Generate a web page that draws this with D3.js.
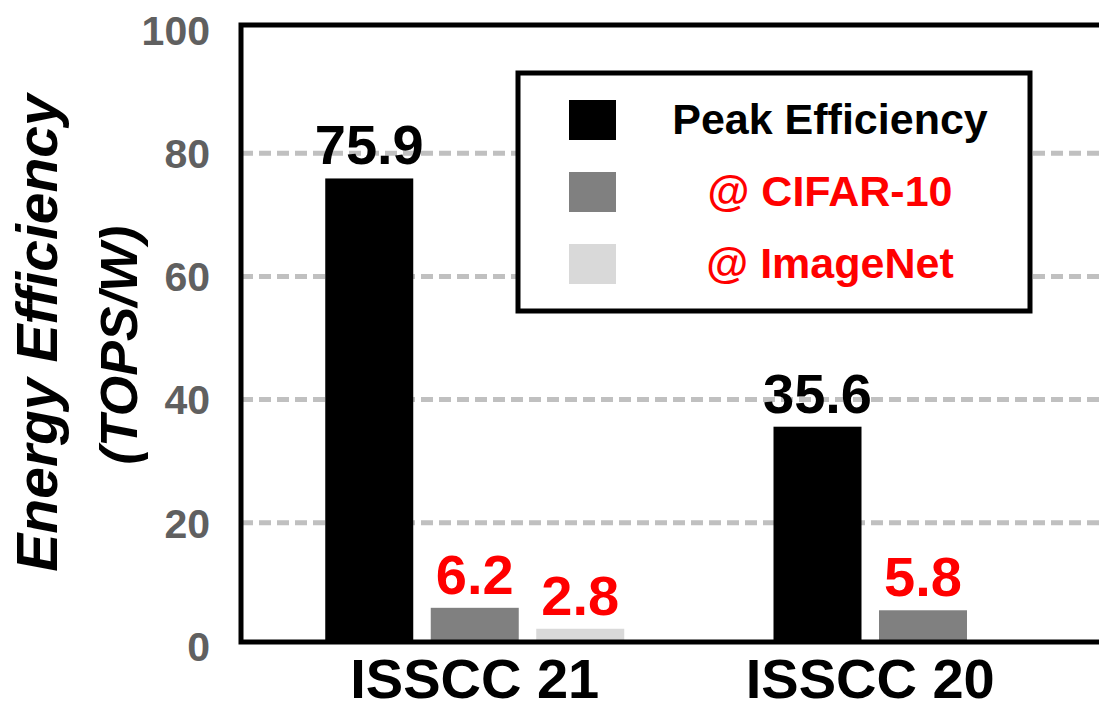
<!DOCTYPE html>
<meta charset="utf-8">
<style>
body { margin: 0; background: #fff; }
text { font-family: "Liberation Sans", Arial, sans-serif; font-weight: bold; }
.tick-label { font-size: 41px; fill: #606060; }
.cat-label { font-size: 56px; fill: #000; }
.val-label { font-size: 56px; }
.legend-label { font-size: 43px; }
</style>
<body>
<script src="https://d3js.org/d3.v7.min.js"></script>
<script>
// data
const categories = ["ISSCC 21", "ISSCC 20"];
const series = ["Peak Efficiency", "@ CIFAR-10", "@ ImageNet"];
const peakVals = [75.9, 35.6];
const cifarVals = [6.2, 5.8];
const imagenetVals = [2.8, null];
const yTicks = [0, 20, 40, 60, 80, 100];

const fills = ["#000000", "#808080", "#d9d9d9"];
const labelColors = ["#000000", "#ff0000", "#ff0000"];

const width = 1099, height = 709;
const plot = {left: 241, top: 25, right: 1104, bottom: 642};

const svg = d3.select("body").append("svg")
    .attr("width", width)
    .attr("height", height);

// scales
const x = d3.scaleBand()
    .domain(categories)
    .range([277, 1068]);

const y = d3.scaleLinear()
    .domain([0, 100])
    .range([646, 30]);

// gridlines (dashed grey)
svg.append("g")
  .selectAll("line")
  .data(yTicks.filter(t => t > 0 && t < 100))
  .enter().append("line")
    .attr("x1", plot.left)
    .attr("x2", width)
    .attr("y1", d => y(d))
    .attr("y2", d => y(d))
    .attr("stroke", "#c0c0c0")
    .attr("stroke-width", 5)
    .attr("stroke-dasharray", "12,6");

// tick labels
svg.append("g")
  .selectAll("text")
  .data(yTicks)
  .enter().append("text")
    .attr("class", "tick-label")
    .attr("x", 210)
    .attr("y", d => y(d))
    .attr("dy", "0.36em")
    .attr("text-anchor", "end")
    .text(d => d);

// build rows for bars
const rows = categories.map((c, i) => {
  const vals = [peakVals[i], cifarVals[i], imagenetVals[i]];
  const items = [];
  vals.forEach((v, s) => { if (v != null) items.push({cat: c, s: s, v: v}); });
  return items;
});

const step = 105.5, barW = 88;
const bars = [];
rows.forEach(items => {
  const n = items.length;
  const inner = d3.scaleBand()
      .domain(items.map(d => d.s))
      .range([x(items[0].cat) + x.bandwidth() / 2 - n * step / 2,
              x(items[0].cat) + x.bandwidth() / 2 + n * step / 2])
      .paddingInner((step - barW) / step)
      .paddingOuter((step - barW) / step / 2);
  items.forEach(d => { d.x = inner(d.s); d.w = inner.bandwidth(); bars.push(d); });
});

svg.append("g")
  .selectAll("rect")
  .data(bars)
  .enter().append("rect")
    .attr("x", d => d.x)
    .attr("width", d => d.w)
    .attr("y", d => y(d.v))
    .attr("height", d => plot.bottom - y(d.v))
    .attr("fill", d => fills[d.s]);

// value labels
svg.append("g")
  .selectAll("text")
  .data(bars)
  .enter().append("text")
    .attr("class", "val-label")
    .attr("x", d => d.x + d.w / 2)
    .attr("y", d => y(d.v) - 14)
    .attr("text-anchor", "middle")
    .attr("fill", d => labelColors[d.s])
    .text(d => d.v.toFixed(1));

// frame
svg.append("rect")
    .attr("x", plot.left)
    .attr("y", plot.top)
    .attr("width", plot.right - plot.left)
    .attr("height", plot.bottom - plot.top)
    .attr("fill", "none")
    .attr("stroke", "#000")
    .attr("stroke-width", 5);

// category labels
svg.append("g")
  .selectAll("text")
  .data(categories)
  .enter().append("text")
    .attr("class", "cat-label")
    .attr("x", d => x(d) + x.bandwidth() / 2)
    .attr("y", 698)
    .attr("text-anchor", "middle")
    .text(d => d);

// y axis title
const yt = svg.append("g")
    .attr("transform", "translate(0,333) rotate(-90)");
yt.append("text")
    .attr("x", 0)
    .attr("y", 57)
    .attr("text-anchor", "middle")
    .style("font-size", "57px")
    .style("font-style", "italic")
    .text("Energy Efficiency");
yt.append("text")
    .attr("x", -12)
    .attr("y", 137)
    .attr("text-anchor", "middle")
    .style("font-size", "52px")
    .style("font-style", "italic")
    .text("(TOPS/W)");

// legend
const legend = svg.append("g");
legend.append("rect")
    .attr("x", 518)
    .attr("y", 73)
    .attr("width", 512)
    .attr("height", 238)
    .attr("fill", "#fff")
    .attr("stroke", "#000")
    .attr("stroke-width", 5);

const ly = d3.scalePoint().domain(series).range([120, 264]);
const li = legend.selectAll(".li")
  .data(series)
  .enter().append("g")
    .attr("transform", d => "translate(0," + ly(d) + ")");
li.append("rect")
    .attr("x", 569)
    .attr("y", -20)
    .attr("width", 47)
    .attr("height", 40)
    .attr("fill", (d, i) => fills[i]);
li.append("text")
    .attr("class", "legend-label")
    .attr("x", 830)
    .attr("y", 14)
    .attr("text-anchor", "middle")
    .attr("fill", (d, i) => labelColors[i])
    .text(d => d);
</script>
</body>
